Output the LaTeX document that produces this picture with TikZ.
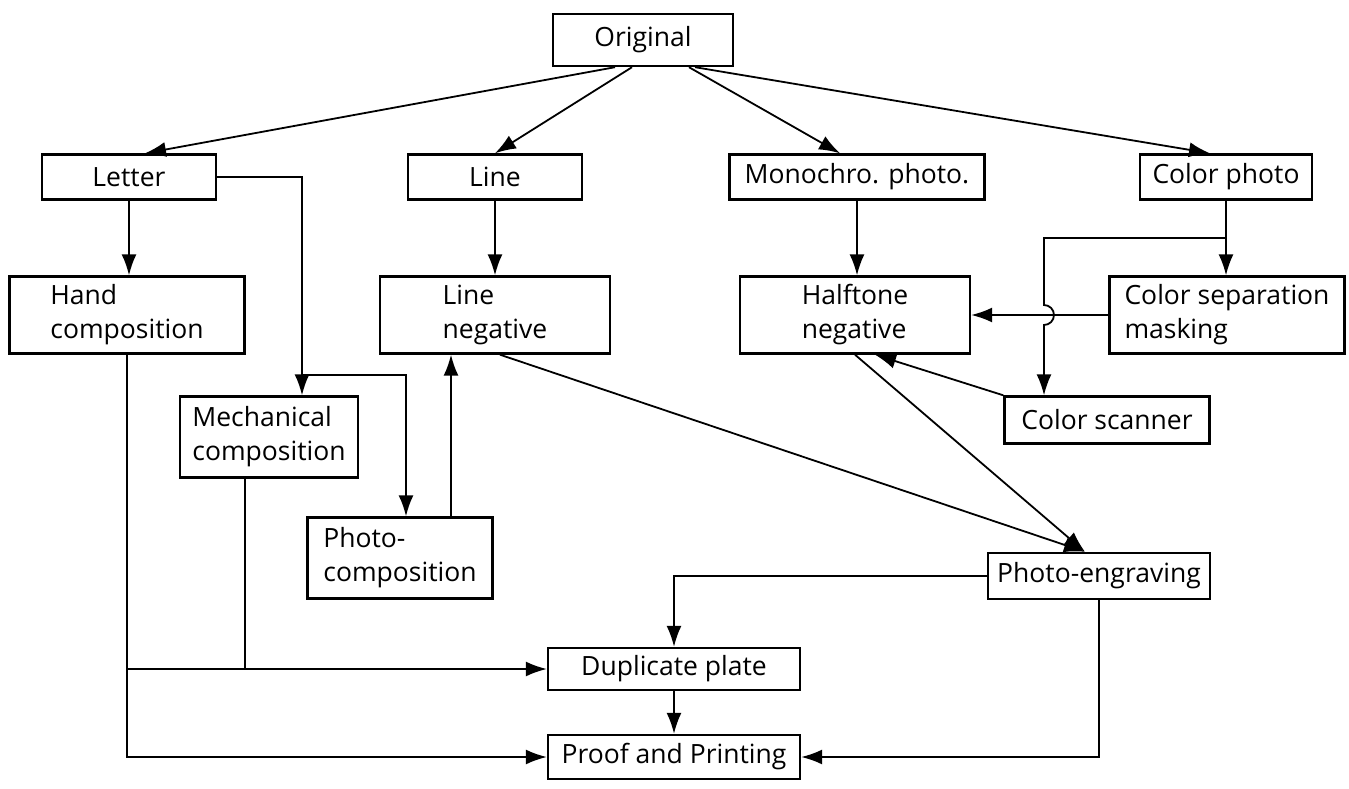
\documentclass[tikz,border=0pt]{standalone}
\usepackage{fontspec}
\setmainfont{Open Sans}
\usetikzlibrary{arrows.meta,calc}
\begin{document}
\begin{tikzpicture}[x=1pt,y=-1pt,
  box/.style={draw,line width=2.4pt,rectangle,align=left,inner sep=2pt,
    font=\fontsize{26.5}{34}\selectfont},
  conn/.style={line width=1.8pt},
  arr/.style={conn,-{Latex[length=21pt,width=15pt]}}]
\useasboundingbox (0,0) rectangle (1349,789);
% top row
\node[box,minimum width=180pt,minimum height=52pt] (orig) at (643,40) {Original};
\node[box,minimum width=174pt,minimum height=45pt] (letter) at (129,177) {Letter};
\node[box,minimum width=174pt,minimum height=45pt] (line) at (495,177) {Line};
\node[box,minimum width=255pt,minimum height=45pt] (mono) at (857,177) {Monochro. photo.};
\node[box,minimum width=172pt,minimum height=45pt] (cphoto) at (1226,177) {Color photo};
% second row
\node[box,minimum width=235pt,minimum height=77pt] (hand) at (127,315) {Hand\\composition};
\node[box,minimum width=230pt,minimum height=77pt] (lneg) at (495,315) {Line\\negative};
\node[box,minimum width=230pt,minimum height=77pt] (half) at (855,315) {Halftone\\negative};
\node[box,minimum width=235pt,minimum height=77pt] (csep) at (1227,315) {Color separation\\masking};
% middle
\node[box,minimum width=205pt,minimum height=47pt] (scan) at (1107,420) {Color scanner};
\node[box,minimum width=178pt,minimum height=81pt] (mech) at (269,437) {Mechanical\\composition};
\node[box,minimum width=185pt,minimum height=81pt] (pcomp) at (400,558) {Photo-\\composition};
\node[box,minimum width=222pt,minimum height=46pt] (peng) at (1099,576) {Photo-engraving};
% bottom
\node[box,minimum width=252pt,minimum height=42pt] (dup) at (674,669) {Duplicate plate};
\node[box,minimum width=252pt,minimum height=44pt] (proof) at (674,757) {Proof and Printing};

% from the original
\draw[arr] ([xshift=-28pt]orig.south) -- ([xshift=16pt]letter.north);
\draw[arr] ([xshift=-11pt]orig.south) -- (line.north);
\draw[arr] ([xshift=46pt]orig.south) -- ([xshift=-17pt]mono.north);
\draw[arr] ([xshift=52pt]orig.south) -- ([xshift=-16pt]cphoto.north);

% letter branch
\draw[arr] (letter.south) -- (letter.south |- hand.north);
\draw[arr] (letter.east) -| ([xshift=33pt]mech.north);
\coordinate (j1) at ([xshift=33pt,yshift=20pt]mech.north);
\draw[arr] (j1) -| ([xshift=6pt]pcomp.north);
\draw[arr] ([xshift=51pt]pcomp.north) -- ([xshift=-44pt]lneg.south);

% line and photo branches
\draw[arr] (line.south) -- (lneg.north);
\draw[arr] (mono.south) -- (mono.south |- half.north);
\draw[arr] (cphoto.south) -- (cphoto.south |- csep.north);
\coordinate (j2) at ($(cphoto.south)!0.5!(cphoto.south |- csep.north)$);
\coordinate (vx) at ([xshift=-63pt]scan.north);
\draw[arr] (j2) -| ($(vx |- csep.west)+(0,-10)$)
  arc[start angle=90,end angle=-90,radius=10pt] -- (vx);
\draw[arr] (csep.west) -- (half.east);
\draw[arr] (scan.north west) -- ([xshift=20pt]half.south);

% to photo-engraving
\draw[arr] ([xshift=5pt]lneg.south) -- ([xshift=-14pt]peng.north);
\draw[arr] (half.south) -- ([xshift=-14pt]peng.north);

% to plates and printing
\draw[arr] (peng.west) -| (dup.north);
\draw[arr] (peng.south) |- (proof.east);
\draw[arr] (hand.south) |- (proof.west);
\coordinate (j3) at (hand.south |- dup.west);
\draw[arr] (j3) -- (dup.west);
\draw[conn] ([xshift=-24pt]mech.south) -- ([xshift=-24pt]mech.south |- dup.west);
\draw[arr] (dup.south) -- (proof.north);
\end{tikzpicture}
\end{document}
